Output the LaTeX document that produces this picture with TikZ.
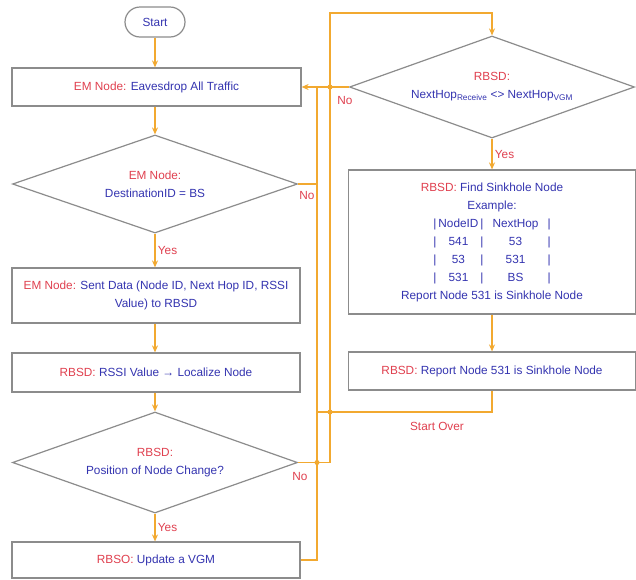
\documentclass[tikz,border=0pt]{standalone}
\usepackage{fontspec}
\setmainfont{Liberation Sans}
\usetikzlibrary{shapes.geometric,arrows.meta}
\definecolor{lred}{HTML}{E0404F}
\definecolor{lblue}{HTML}{3434B0}
\definecolor{lorange}{HTML}{F2A930}
\definecolor{lgray}{HTML}{8C8C8C}
\newcommand{\rl}[1]{\textcolor{lred}{#1}}
\begin{document}
\begin{tikzpicture}[x=1pt,y=-1pt,
  font=\fontsize{11.8}{18}\selectfont,
  box/.style={draw=lgray,line width=1.2pt,rectangle,inner sep=0pt,align=center,text=lblue},
  dia/.style={draw=lgray,line width=1.2pt,diamond,aspect=2.85,inner sep=0pt,align=center,text=lblue,minimum width=285pt},
  flow/.style={draw=lorange,line width=1.8pt,-{Stealth[length=7pt,width=6pt]}},
  link/.style={draw=lorange,line width=1.8pt},
  lab/.style={text=lred,inner sep=0pt},
  hop/.style={fill=lorange,circle,inner sep=0pt,minimum size=5pt}]
\useasboundingbox (0,0) rectangle (636,579);
\fill[white] (0,0) rectangle (636,579);

% left column
\node[box,minimum width=60pt,minimum height=30pt,rounded corners=15pt] (start) at (155,22) {Start};
\node[box,minimum width=289pt,minimum height=38pt] (em) at (156.5,87) {\rl{EM Node:} Eavesdrop All Traffic};
\node[dia,minimum height=98pt] (dest) at (155,184) {\rl{EM Node:}\\DestinationID = BS};
\node[box,minimum width=288pt,minimum height=55pt] (sent) at (156,295.5) {\rl{EM Node:} Sent Data (Node ID, Next Hop ID, RSSI\\Value) to RBSD};
\node[box,minimum width=288pt,minimum height=39pt] (rssi) at (156,372.5) {\rl{RBSD:} RSSI Value → Localize Node};
\node[dia,minimum height=101pt] (pos) at (155,462.5) {\rl{RBSD:}\\Position of Node Change?};
\node[box,minimum width=288pt,minimum height=36pt] (vgm) at (156,560) {\rl{RBSO:} Update a VGM};

% right column
\node[dia,minimum height=102pt] (rbsd) at (492,87) {\rl{RBSD:}\\NextHop\textsubscript{Receive} <> NextHop\textsubscript{VGM}};
\node[box,minimum width=287pt,minimum height=144pt] (find) at (492,242) {\rl{RBSD:} Find Sinkhole Node\\Example:\\
|\makebox[44pt]{NodeID}|\makebox[64pt]{NextHop}|\\
|\makebox[44pt]{541}|\makebox[64pt]{53}|\\
|\makebox[44pt]{53}|\makebox[64pt]{531}|\\
|\makebox[44pt]{531}|\makebox[64pt]{BS}|\\
Report Node 531 is Sinkhole Node};
\node[box,minimum width=287pt,minimum height=38pt] (rep) at (492,371) {\rl{RBSD:} Report Node 531 is Sinkhole Node};

% routing coordinates
\coordinate (ax) at (317,0);
\coordinate (bx) at (330,0);
\coordinate (top) at (330,13);
\coordinate (so) at (317,412);

% main flow
\draw[flow] (start.south) -- (start.south |- em.north);
\draw[flow] (dest.north |- em.south) -- (dest.north);
\draw[flow] (dest.south) -- (dest.south |- sent.north) node[lab,midway,right=2pt] (y1) {Yes};
\draw[flow] (dest.south |- sent.south) -- (dest.south |- rssi.north);
\draw[flow] (pos.north |- rssi.south) -- (pos.north);
\draw[flow] (pos.south) -- (pos.south |- vgm.north) node[lab,midway,right=2pt] (y2) {Yes};

% loops
\draw[link] (vgm.east) -- (vgm.east -| ax) -- (ax |- em.east);
\draw[link] (dest.east) -- (dest.east -| ax);
\draw[flow] (pos.east) -- (pos.east -| bx) -- (top) -- (top -| rbsd.north) -- (rbsd.north);
\draw[flow] (rbsd.west) -- (em.east);
\draw[flow] (rbsd.south) -- (find.north) node[lab,midway,right=2pt] (y3) {Yes};
\draw[flow] (find.south) -- (rep.north);
\draw[link] (rep.south) -- (rep.south |- so) -- (so);

% hops
\node[hop] (h1) at (330,87) {};
\node[hop] (h2) at (330,412) {};
\node[hop] (h3) at (317,462.5) {};

% labels
\node[lab] (n1) at (307,195) {No};
\node[lab] (n2) at (345,100) {No};
\node[lab] (n3) at (300,476) {No};
\node[lab] (so1) at (437,426) {Start Over};
\end{tikzpicture}
\end{document}
